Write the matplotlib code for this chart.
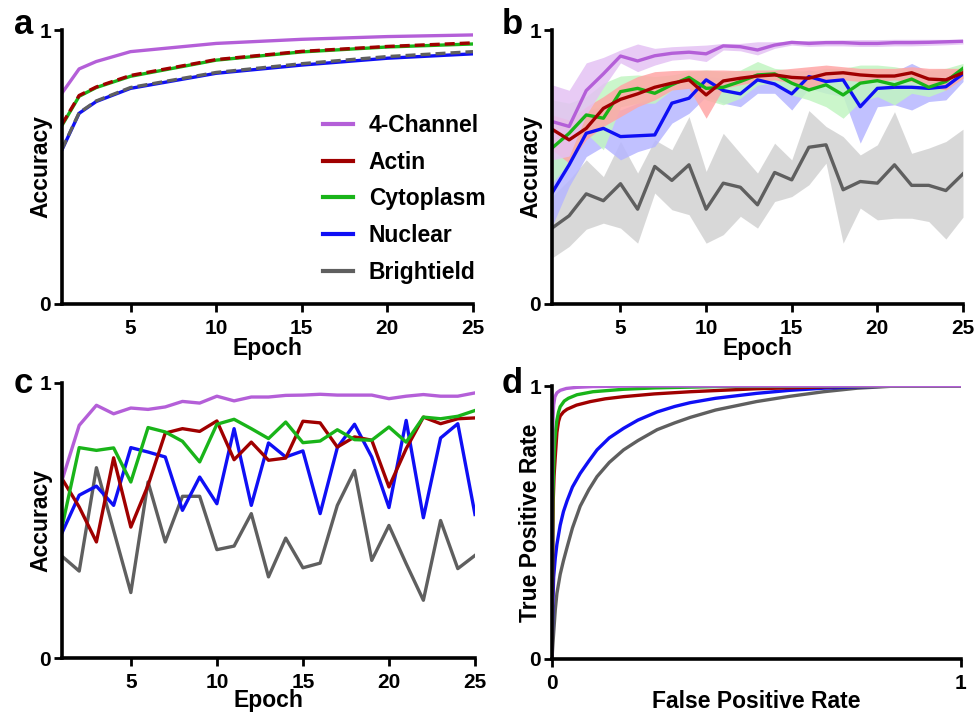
import numpy as np
import matplotlib
matplotlib.use('Agg')
import matplotlib.pyplot as plt

plt.rcParams['font.family'] = ['Liberation Sans', 'DejaVu Sans']
plt.rcParams['font.weight'] = 'bold'
plt.rcParams['axes.labelweight'] = 'bold'

epochs = np.arange(1, 26)
names = ['4-Channel', 'Actin', 'Cytoplasm', 'Nuclear', 'Brightfield']
legend_names = ['4-Channel', 'Actin', 'Cytoplasm', 'Nuclear', 'Brightield']
colors = {'4-Channel': '#B45FD8', 'Actin': '#A00000', 'Cytoplasm': '#19B419',
          'Nuclear': '#0F0FF5', 'Brightfield': '#5F5F5F'}
bands = {'4-Channel': '#E4C2F4', 'Actin': '#FFA6A6', 'Cytoplasm': '#C2F5C2',
         'Nuclear': '#B6B6FF', 'Brightfield': '#D2D2D2'}

# panel a - training accuracy (sampled epochs)
a_epochs = [1, 2, 3, 5, 10, 15, 20, 25]
a_vals = {
    '4-Channel':  [0.770, 0.858, 0.885, 0.921, 0.951, 0.966, 0.976, 0.982],
    'Actin':      [0.656, 0.761, 0.792, 0.834, 0.892, 0.922, 0.940, 0.953],
    'Cytoplasm':  [0.652, 0.758, 0.790, 0.831, 0.890, 0.920, 0.938, 0.949],
    'Nuclear':    [0.563, 0.696, 0.739, 0.787, 0.842, 0.872, 0.897, 0.913],
    'Brightfield':[0.565, 0.698, 0.741, 0.790, 0.845, 0.877, 0.903, 0.921],
}

# panel b - mean validation accuracy with min/max band
b_mean = {
    '4-Channel': [0.666, 0.648, 0.779, 0.840, 0.905, 0.887, 0.906, 0.915, 0.919, 0.913, 0.942, 0.939, 0.927,
                  0.945, 0.955, 0.951, 0.954, 0.954, 0.951, 0.951, 0.954, 0.954, 0.955, 0.957, 0.959],
    'Actin': [0.638, 0.599, 0.641, 0.714, 0.747, 0.767, 0.791, 0.806, 0.818, 0.763, 0.814, 0.824, 0.832,
              0.836, 0.827, 0.824, 0.840, 0.844, 0.836, 0.832, 0.832, 0.844, 0.821, 0.818, 0.844],
    'Cytoplasm': [0.569, 0.623, 0.690, 0.678, 0.775, 0.787, 0.769, 0.800, 0.827, 0.787, 0.791, 0.812, 0.836,
                  0.840, 0.806, 0.781, 0.800, 0.763, 0.806, 0.815, 0.800, 0.821, 0.791, 0.812, 0.860],
    'Nuclear': [0.405, 0.508, 0.623, 0.641, 0.611, 0.614, 0.617, 0.733, 0.751, 0.818, 0.779, 0.767, 0.818,
                0.803, 0.767, 0.830, 0.812, 0.818, 0.720, 0.787, 0.791, 0.791, 0.787, 0.793, 0.840],
    'Brightfield': [0.277, 0.322, 0.402, 0.377, 0.439, 0.346, 0.502, 0.451, 0.508, 0.346, 0.441, 0.426, 0.362,
                    0.480, 0.453, 0.572, 0.581, 0.417, 0.447, 0.441, 0.508, 0.433, 0.433, 0.414, 0.475],
}
b_high = {
    '4-Channel': [0.800, 0.780, 0.880, 0.900, 0.927, 0.949, 0.933, 0.939, 0.942, 0.945, 0.951, 0.951, 0.957,
                  0.957, 0.960, 0.962, 0.963, 0.964, 0.965, 0.965, 0.966, 0.966, 0.966, 0.966, 0.966],
    'Actin': [0.690, 0.672, 0.720, 0.757, 0.800, 0.830, 0.848, 0.852, 0.854, 0.854, 0.854, 0.852, 0.854,
              0.854, 0.860, 0.866, 0.872, 0.866, 0.860, 0.860, 0.860, 0.866, 0.860, 0.860, 0.860],
    'Cytoplasm': [0.745, 0.733, 0.757, 0.806, 0.832, 0.836, 0.830, 0.836, 0.848, 0.854, 0.848, 0.854, 0.885,
                  0.860, 0.854, 0.848, 0.860, 0.860, 0.872, 0.872, 0.866, 0.854, 0.854, 0.860, 0.878],
    'Nuclear': [0.526, 0.575, 0.708, 0.720, 0.708, 0.733, 0.757, 0.787, 0.818, 0.830, 0.824, 0.830, 0.842,
                0.836, 0.842, 0.854, 0.842, 0.848, 0.830, 0.842, 0.848, 0.878, 0.848, 0.854, 0.854],
    'Brightfield': [0.392, 0.453, 0.526, 0.465, 0.593, 0.478, 0.599, 0.563, 0.684, 0.484, 0.623, 0.550, 0.478,
                    0.587, 0.526, 0.706, 0.648, 0.611, 0.544, 0.581, 0.702, 0.550, 0.569, 0.593, 0.638],
}
b_low = {
    '4-Channel': [0.526, 0.540, 0.690, 0.790, 0.880, 0.848, 0.872, 0.890, 0.895, 0.885, 0.927, 0.924, 0.909,
                  0.933, 0.945, 0.940, 0.942, 0.942, 0.940, 0.940, 0.942, 0.942, 0.944, 0.946, 0.949],
    'Actin': [0.563, 0.514, 0.600, 0.648, 0.684, 0.720, 0.745, 0.781, 0.787, 0.678, 0.787, 0.800, 0.812,
              0.818, 0.806, 0.781, 0.812, 0.818, 0.812, 0.812, 0.818, 0.812, 0.793, 0.781, 0.824],
    'Cytoplasm': [0.441, 0.514, 0.623, 0.563, 0.720, 0.733, 0.733, 0.781, 0.793, 0.745, 0.727, 0.751, 0.799,
                  0.806, 0.763, 0.745, 0.720, 0.678, 0.739, 0.757, 0.727, 0.769, 0.757, 0.781, 0.830],
    'Nuclear': [0.283, 0.429, 0.538, 0.575, 0.526, 0.556, 0.575, 0.660, 0.696, 0.757, 0.733, 0.720, 0.769,
                0.769, 0.708, 0.787, 0.769, 0.757, 0.587, 0.720, 0.727, 0.708, 0.739, 0.745, 0.812],
    'Brightfield': [0.168, 0.210, 0.273, 0.295, 0.277, 0.222, 0.405, 0.344, 0.326, 0.222, 0.253, 0.320, 0.277,
                    0.374, 0.392, 0.435, 0.514, 0.222, 0.350, 0.307, 0.313, 0.313, 0.301, 0.237, 0.317],
}

# panel c - validation accuracy, single run
c_vals = {
    '4-Channel': [0.646, 0.846, 0.919, 0.888, 0.909, 0.904, 0.913, 0.933, 0.927, 0.952, 0.935, 0.949, 0.949,
                  0.955, 0.956, 0.959, 0.956, 0.956, 0.956, 0.943, 0.952, 0.958, 0.952, 0.952, 0.964],
    'Actin': [0.652, 0.549, 0.422, 0.728, 0.476, 0.628, 0.818, 0.834, 0.824, 0.862, 0.721, 0.785, 0.719,
              0.727, 0.861, 0.855, 0.767, 0.804, 0.792, 0.622, 0.761, 0.876, 0.852, 0.870, 0.873],
    'Cytoplasm': [0.476, 0.765, 0.755, 0.764, 0.640, 0.838, 0.822, 0.788, 0.713, 0.850, 0.868, 0.834, 0.798,
                  0.858, 0.783, 0.789, 0.830, 0.794, 0.792, 0.840, 0.785, 0.876, 0.870, 0.879, 0.900],
    'Nuclear': [0.455, 0.592, 0.625, 0.555, 0.765, 0.749, 0.731, 0.537, 0.658, 0.561, 0.834, 0.555, 0.782,
                0.731, 0.753, 0.525, 0.765, 0.850, 0.731, 0.547, 0.864, 0.510, 0.800, 0.852, 0.522],
    'Brightfield': [0.370, 0.316, 0.692, 0.464, 0.238, 0.640, 0.422, 0.588, 0.588, 0.394, 0.407, 0.525, 0.295,
                    0.436, 0.328, 0.345, 0.555, 0.682, 0.355, 0.482, 0.343, 0.210, 0.500, 0.325, 0.373],
}

# panel d - ROC curves (fpr, tpr)
roc = {
    '4-Channel': ([0, 0, 0.002, 0.004, 0.007, 0.012, 0.02, 0.035, 0.06, 0.1, 0.2, 1.0],
                  [0, 0.58, 0.86, 0.93, 0.96, 0.975, 0.984, 0.991, 0.995, 0.998, 1.0, 1.0]),
    'Cytoplasm': ([0, 0.002, 0.004, 0.006, 0.009, 0.012, 0.016, 0.02, 0.03, 0.04, 0.061, 0.1, 0.175, 0.25, 0.4, 1.0],
                  [0, 0.58, 0.70, 0.78, 0.84, 0.875, 0.905, 0.924, 0.945, 0.955, 0.968, 0.979, 0.988, 0.993, 0.998, 1.0]),
    'Actin': ([0, 0.003, 0.005, 0.008, 0.012, 0.016, 0.02, 0.028, 0.037, 0.06, 0.094, 0.13, 0.175, 0.25, 0.338, 0.5, 0.7, 1.0],
              [0, 0.58, 0.67, 0.741, 0.83, 0.87, 0.89, 0.905, 0.915, 0.93, 0.943, 0.953, 0.961, 0.971, 0.979, 0.99, 0.998, 1.0]),
    'Nuclear': ([0, 0.002, 0.004, 0.008, 0.012, 0.02, 0.028, 0.037, 0.05, 0.069, 0.09, 0.11, 0.14, 0.175, 0.21,
                 0.257, 0.3, 0.338, 0.4, 0.5, 0.58, 0.664, 0.746, 0.85, 1.0],
                [0, 0.2, 0.30, 0.37, 0.42, 0.49, 0.54, 0.58, 0.63, 0.68, 0.725, 0.766, 0.81, 0.845, 0.875,
                 0.905, 0.925, 0.939, 0.955, 0.973, 0.984, 0.992, 0.997, 1.0, 1.0]),
    'Brightfield': ([0, 0.002, 0.004, 0.008, 0.012, 0.02, 0.028, 0.037, 0.05, 0.069, 0.09, 0.11, 0.14, 0.175, 0.21,
                     0.257, 0.3, 0.338, 0.4, 0.5, 0.58, 0.664, 0.746, 0.83, 0.9, 1.0],
                    [0, 0.05, 0.094, 0.18, 0.24, 0.31, 0.36, 0.41, 0.48, 0.56, 0.62, 0.668, 0.72, 0.766, 0.80,
                     0.84, 0.865, 0.885, 0.912, 0.943, 0.962, 0.979, 0.992, 0.999, 1.0, 1.0]),
}

W, H = 978, 712
fig = plt.figure(figsize=(W / 100, H / 100), dpi=100)

def add_ax(l, r, t, b):
    return fig.add_axes([l / W, 1 - b / H, (r - l) / W, (b - t) / H])

def style(ax, xlim, xticks):
    for s in ['top', 'right']:
        ax.spines[s].set_visible(False)
    for s in ['left', 'bottom']:
        ax.spines[s].set_linewidth(2.6)
    ax.set_xlim(*xlim)
    ax.set_ylim(0, 1)
    ax.set_xticks(xticks)
    ax.set_yticks([0, 1])
    ax.set_yticklabels(['0', '1'])
    ax.tick_params(width=2.0, length=6, labelsize=15)
    ax.tick_params(axis='x', pad=5)
    ax.tick_params(axis='y', pad=2)

lw = 2.4
ax_a = add_ax(62, 473, 30, 304)
ax_b = add_ax(552, 963, 30, 304)
ax_c = add_ax(62, 475, 383, 658)
ax_d = add_ax(552, 961, 386, 659)

# a
ax_a.plot(a_epochs, a_vals['4-Channel'], color=colors['4-Channel'], lw=lw)
ax_a.plot(a_epochs, a_vals['Cytoplasm'], color=colors['Cytoplasm'], lw=lw)
ax_a.plot(a_epochs, a_vals['Actin'], color=colors['Actin'], lw=lw, ls=(0, (3, 1.5)))
ax_a.plot(a_epochs, a_vals['Nuclear'], color=colors['Nuclear'], lw=lw)
ax_a.plot(a_epochs, a_vals['Brightfield'], color=colors['Brightfield'], lw=lw, ls=(0, (3, 1.5)))
handles = [plt.Line2D([], [], color=colors[n], lw=3) for n in names]
ax_a.legend(handles, legend_names, loc='upper left', bbox_to_anchor=((323 - 62) / 411, (304 - 114) / 274),
            frameon=False, borderpad=0, borderaxespad=0, fontsize=16.5, handlelength=1.3,
            handletextpad=0.7, labelspacing=0.6)
style(ax_a, (1, 25), [5, 10, 15, 20, 25])

# b
for n in ['Brightfield', 'Nuclear', 'Cytoplasm', 'Actin', '4-Channel']:
    ax_b.fill_between(epochs, b_low[n], b_high[n], color=bands[n], alpha=0.85, lw=0)
for n in ['Brightfield', 'Nuclear', 'Cytoplasm', 'Actin', '4-Channel']:
    ax_b.plot(epochs, b_mean[n], color=colors[n], lw=lw)
style(ax_b, (1, 25), [5, 10, 15, 20, 25])

# c
for n in ['Brightfield', 'Nuclear', 'Actin', 'Cytoplasm', '4-Channel']:
    ax_c.plot(epochs, c_vals[n], color=colors[n], lw=lw)
style(ax_c, (1, 25), [5, 10, 15, 20, 25])

# d
for n in ['Brightfield', 'Nuclear', 'Actin', 'Cytoplasm', '4-Channel']:
    fx, ty = roc[n]
    ax_d.plot(fx, ty, color=colors[n], lw=lw)
style(ax_d, (0, 1), [0, 1])
ax_d.set_xticklabels(['0', '1'])

# label positions in pixels: (axes, xlabel, ylabel, top, bottom, left, width, xlabel top)
for ax, xl, yl, top, bot, left, wd, xtop in [
        (ax_a, 'Epoch', 'Accuracy', 30, 304, 62, 411, 337),
        (ax_b, 'Epoch', 'Accuracy', 30, 304, 552, 411, 337),
        (ax_c, 'Epoch', 'Accuracy', 383, 658, 62, 413, 689),
        (ax_d, 'False Positive Rate', 'True Positive Rate', 386, 659, 552, 409, 690)]:
    ax.set_xlabel(xl, fontsize=16.5)
    ax.set_ylabel(yl, fontsize=16.5)
    ax.xaxis.set_label_coords(0.5, -(xtop - bot) / (bot - top))
    ax.yaxis.set_label_coords(-10 / wd, 0.5)

for lab, x, y in [('a', 14, 34), ('b', 502, 34), ('c', 14, 393), ('d', 502, 393)]:
    fig.text(x / W, 1 - y / H, lab, fontsize=25, fontweight='bold', ha='left', va='baseline')

fig.savefig('out.png', dpi=100)
